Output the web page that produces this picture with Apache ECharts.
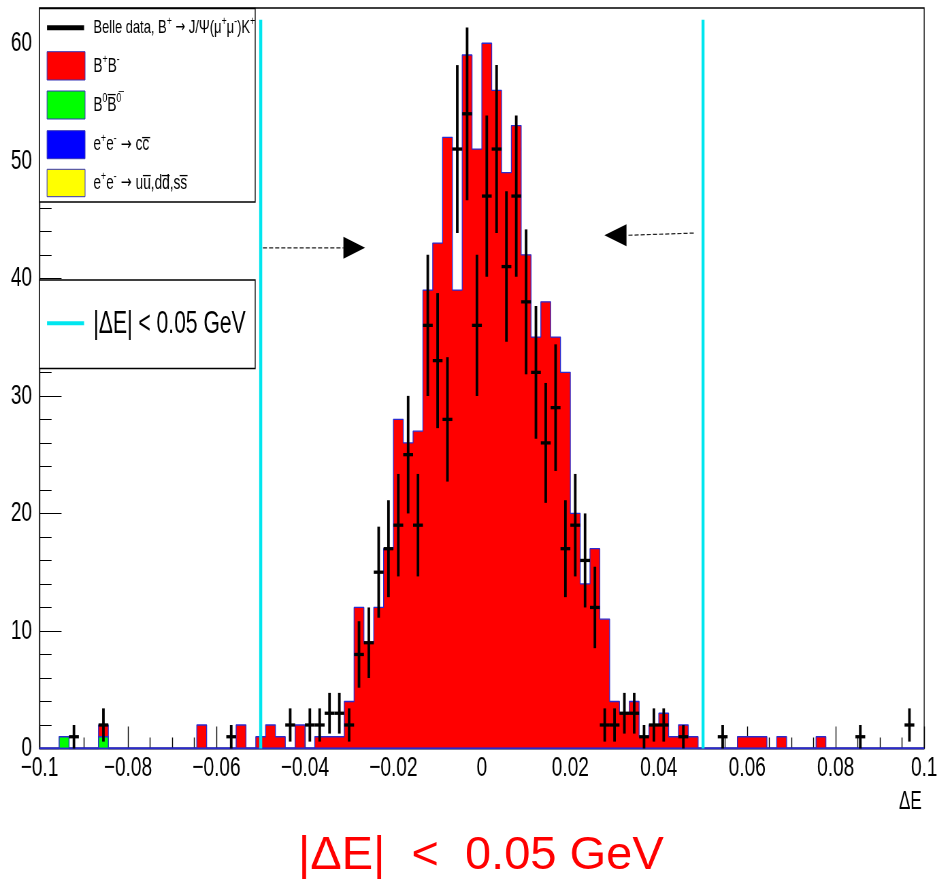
<!DOCTYPE html>
<html>
<head>
<meta charset="utf-8">
<script src="https://cdn.jsdelivr.net/npm/echarts@6/dist/echarts.min.js"></script>
<style>
  html, body { margin: 0; padding: 0; background: #ffffff; overflow: hidden; }
  #wrap { position: relative; width: 939px; height: 879px; overflow: hidden; background: #ffffff; }
  #chart { position: absolute; left: 0; top: 0; height: 879px; transform-origin: 0 0; }
</style>
</head>
<body>
<div id="wrap"><div id="chart"></div></div>
<script>
// ---------------------------------------------------------------------------
// Histogram binning: 90 bins of Delta E between -0.1 and 0.1 GeV
// ---------------------------------------------------------------------------
const xMin = -0.1;
const xMax = 0.1;
const nBins = 90;
const xTickStep = 0.02;
const yMax = 63;
const yTickStep = 10;

// signal-window cut |Delta E| < 0.05 GeV and the height the cut lines reach
const cutValue = 0.05;
const cutLineTop = 62;

// MC: B+B- (red), stacked on B0 B0bar (green); continuum samples are empty here
const countsBpBm = [
  0, 0, 0, 0, 0, 0, 1, 0, 0, 0,
  0, 0, 0, 0, 0, 0, 2, 0, 0, 0,
  2, 0, 1, 2, 1, 0, 2, 0, 1, 1,
  1, 4, 12, 9, 12, 17, 28, 26, 27, 39,
  43, 52, 39, 59, 51, 60, 56, 49, 53, 42,
  35, 38, 35, 32, 20, 14, 17, 11, 4, 3,
  4, 1, 2, 3, 1, 2, 1, 0, 0, 0,
  0, 1, 1, 1, 0, 1, 0, 0, 0, 1,
  0, 0, 0, 0, 0, 0, 0, 0, 0, 0
];
const countsB0B0 = [
  0, 0, 1, 0, 0, 0, 1, 0, 0, 0,
  0, 0, 0, 0, 0, 0, 0, 0, 0, 0,
  0, 0, 0, 0, 0, 0, 0, 0, 0, 0,
  0, 0, 0, 0, 0, 0, 0, 0, 0, 0,
  0, 0, 0, 0, 0, 0, 0, 0, 0, 0,
  0, 0, 0, 0, 0, 0, 0, 0, 0, 0,
  0, 0, 0, 0, 0, 0, 0, 0, 0, 0,
  0, 0, 0, 0, 0, 0, 0, 0, 0, 0,
  0, 0, 0, 0, 0, 0, 0, 0, 0, 0
];
const countsCCbar = [
  0, 0, 0, 0, 0, 0, 0, 0, 0, 0, 0, 0, 0, 0, 0, 0, 0, 0, 0, 0, 0, 0, 0, 0, 0, 0, 0, 0, 0, 0,
  0, 0, 0, 0, 0, 0, 0, 0, 0, 0, 0, 0, 0, 0, 0, 0, 0, 0, 0, 0, 0, 0, 0, 0, 0, 0, 0, 0, 0, 0,
  0, 0, 0, 0, 0, 0, 0, 0, 0, 0, 0, 0, 0, 0, 0, 0, 0, 0, 0, 0, 0, 0, 0, 0, 0, 0, 0, 0, 0, 0
];
const countsUDS = [
  0, 0, 0, 0, 0, 0, 0, 0, 0, 0, 0, 0, 0, 0, 0, 0, 0, 0, 0, 0, 0, 0, 0, 0, 0, 0, 0, 0, 0, 0,
  0, 0, 0, 0, 0, 0, 0, 0, 0, 0, 0, 0, 0, 0, 0, 0, 0, 0, 0, 0, 0, 0, 0, 0, 0, 0, 0, 0, 0, 0,
  0, 0, 0, 0, 0, 0, 0, 0, 0, 0, 0, 0, 0, 0, 0, 0, 0, 0, 0, 0, 0, 0, 0, 0, 0, 0, 0, 0, 0, 0
];

// Belle data, B+ -> J/psi(mu+ mu-) K+
const countsData = [
  0, 0, 0, 1, 0, 0, 2, 0, 0, 0,
  0, 0, 0, 0, 0, 0, 0, 0, 0, 1,
  0, 0, 0, 0, 0, 2, 0, 2, 2, 3,
  3, 2, 8, 9, 15, 17, 19, 25, 19, 36,
  33, 28, 51, 54, 36, 47, 51, 41, 47, 38,
  32, 26, 29, 17, 19, 16, 12, 2, 2, 3,
  3, 1, 2, 2, 0, 1, 0, 0, 0, 1,
  0, 0, 0, 0, 0, 0, 0, 0, 0, 0,
  0, 0, 0, 1, 0, 0, 0, 0, 2, 0
];

// ---------------------------------------------------------------------------
// Canvas geometry. The ROOT canvas is narrow-printed, so the chart is drawn
// wide and squeezed horizontally; SQ is the horizontal squeeze factor.
// ---------------------------------------------------------------------------
const SQ = 0.68;
const PAGE_W = 939, PAGE_H = 879;
const W = PAGE_W / SQ;
const X = px => px / SQ;          // page x  ->  canvas x

const el = document.getElementById('chart');
el.style.width = W + 'px';
el.style.transform = 'scaleX(' + SQ + ')';

const binW = (xMax - xMin) / nBins;
const FONT = "'Liberation Sans', Arial, Helvetica, sans-serif";
const ARROW_FONT = "'DejaVu Sans', sans-serif";

// step-outline points at bin edges
function stepPoints(vals) {
  const pts = [];
  for (let k = 0; k < nBins; k++) pts.push([xMin + k * binW, vals[k]]);
  pts.push([xMax, vals[nBins - 1]]);
  return pts;
}
// stack totals (drawn back to front so each layer covers the one below)
const stackGreen = countsB0B0.map((v, k) => v + countsCCbar[k] + countsUDS[k]);
const stackRed = countsBpBm.map((v, k) => v + stackGreen[k]);
const stackBlue = countsCCbar.map((v, k) => v + countsUDS[k]);

const dataPoints = [];
countsData.forEach((n, k) => { if (n > 0) dataPoints.push([xMin + (k + 0.5) * binW, n]); });

function fmtX(v) {
  if (Math.abs(v) < 1e-9) return '0';
  const s = String(parseFloat(Math.abs(v).toFixed(4)));
  return (v < 0 ? '\u2212' : '') + s;
}

const OUTLINE = '#2a2acf';

function histSeries(name, vals, fill, z) {
  return {
    name, type: 'line', step: 'end', data: stepPoints(vals),
    symbol: 'none', z, silent: true, animation: false,
    lineStyle: { color: OUTLINE, width: 1.3 },
    areaStyle: { color: fill, opacity: 1 }
  };
}

const option = {
  animation: false,
  backgroundColor: '#ffffff',
  grid: {
    left: X(39.5), right: W - X(923.5), top: 8, bottom: PAGE_H - 748.5,
    show: true, borderColor: '#000', borderWidth: 1.3, backgroundColor: '#ffffff'
  },
  xAxis: {
    type: 'value', min: xMin, max: xMax, interval: xTickStep,
    axisLine: { show: true, onZero: false, lineStyle: { color: '#000', width: 1.3 } },
    axisTick: { show: true, inside: true, length: 22, lineStyle: { color: '#000', width: 1.4 } },
    minorTick: { show: true, splitNumber: 4, length: 11, lineStyle: { color: '#000', width: 1.4 } },
    splitLine: { show: false },
    axisLabel: {
      show: true, margin: 6, fontSize: 28, fontFamily: FONT, color: '#000',
      showMinLabel: true, showMaxLabel: true, formatter: fmtX
    }
  },
  yAxis: {
    type: 'value', min: 0, max: yMax, interval: yTickStep,
    axisLine: { show: true, onZero: false, lineStyle: { color: '#000', width: 1.4 } },
    axisTick: { show: true, inside: true, length: X(22), lineStyle: { color: '#000', width: 1 } },
    minorTick: { show: true, splitNumber: 5, length: X(12), lineStyle: { color: '#000', width: 1 } },
    splitLine: { show: false },
    axisLabel: {
      show: true, margin: X(7.5), fontSize: 28, fontFamily: FONT, color: '#000',
      showMaxLabel: false
    }
  },
  series: [
    histSeries('B+B-', stackRed, '#ff0000', 2),
    histSeries('B0B0bar', stackGreen, '#00ff00', 3),
    histSeries('cc', stackBlue, '#0000ff', 4),
    histSeries('uds', countsUDS, '#ffff00', 5),
    {
      name: 'cut-low', type: 'line', symbol: 'none', z: 6, silent: true,
      data: [[-cutValue, 0], [-cutValue, cutLineTop]],
      lineStyle: { color: '#00e6ef', width: X(3) }
    },
    {
      name: 'cut-high', type: 'line', symbol: 'none', z: 6, silent: true,
      data: [[cutValue, 0], [cutValue, cutLineTop]],
      lineStyle: { color: '#00e6ef', width: X(3) }
    },
    {
      name: 'Belle data', type: 'custom', z: 7, silent: true,
      data: dataPoints,
      renderItem(params, api) {
        const x = api.value(0), n = api.value(1), e = Math.sqrt(n);
        const top = api.coord([x, n + e]);
        const bot = api.coord([x, Math.max(n - e, 0)]);
        const l = api.coord([x - binW / 2, n]);
        const r = api.coord([x + binW / 2, n]);
        return {
          type: 'group',
          children: [
            { type: 'line', shape: { x1: top[0], y1: top[1], x2: bot[0], y2: bot[1] },
              style: { stroke: '#000', lineWidth: X(2.6) } },
            { type: 'line', shape: { x1: l[0], y1: l[1], x2: r[0], y2: r[1] },
              style: { stroke: '#000', lineWidth: 3.3 } }
          ]
        };
      }
    }
  ]
};

const chart = echarts.init(el, null, { renderer: 'canvas', width: W, height: PAGE_H });
chart.setOption(option);

// ---------------------------------------------------------------------------
// Annotations: legends, window arrows, axis title and caption
// ---------------------------------------------------------------------------
const toPx = (x, y) => chart.convertToPixel({ gridIndex: 0 }, [x, y]);

// arrows pointing into the signal window (data units)
const arrowLeft = { from: [-0.0495, 42.6], base: -0.0313, tip: -0.0264 };
const arrowRight = { from: [0.0479, 43.85], base: 0.0327, tip: 0.0277, y: 43.66 };

function arrow(a, yEnd) {
  const p0 = toPx(a.from[0], a.from[1]);
  const pb = toPx(a.base, yEnd);
  const pt = toPx(a.tip, yEnd);
  return [
    { type: 'line', z: 20, shape: { x1: p0[0], y1: p0[1], x2: pb[0], y2: pb[1] },
      style: { stroke: '#222', lineWidth: 1.2, lineDash: [6, 3] } },
    { type: 'polygon', z: 20, shape: { points: [[pb[0], pb[1] - 11], [pb[0], pb[1] + 11], [pt[0], pt[1]]] },
      style: { fill: '#000' } }
  ];
}

function txt(x, y, text, size, extra) {
  return {
    type: 'text', z: 31, x: X(x), y,
    style: Object.assign({
      text, fill: '#000', fontSize: size, fontFamily: FONT,
      align: 'left', verticalAlign: 'middle', textAlign: 'left', textVerticalAlign: 'middle'
    }, extra || {})
  };
}

const SUP = { fontSize: 13, fontFamily: FONT, fill: '#000', lineHeight: 13, verticalAlign: 'top' };
const NRM = { fontSize: 20, fontFamily: FONT, fill: '#000', lineHeight: 26 };
const NRM_S = { fontSize: 19, fontFamily: FONT, fill: '#000', lineHeight: 26 };
const ARR = { fontSize: 19, fontFamily: ARROW_FONT, fill: '#000', lineHeight: 26 };
const ARR_S = { fontSize: 17, fontFamily: ARROW_FONT, fill: '#000', lineHeight: 26 };
const richLeg = { n: NRM, s: SUP, a: ARR };
const richLegData = { n: NRM_S, s: SUP, a: ARR_S };

function legendBox(y0, y1, fill) {
  return { type: 'rect', z: 31, shape: { x: X(47), y: y0, width: X(85) - X(47), height: y1 - y0 },
    style: { fill, stroke: '#3434b8', lineWidth: 1 } };
}

const graphics = [
  // legend 1 frame
  { type: 'rect', z: 30, shape: { x: X(39.5), y: 8.5, width: X(255) - X(39.5), height: 193.5 },
    style: { fill: '#fff', stroke: '#000', lineWidth: 1.3 } },
  { type: 'line', z: 31, shape: { x1: X(47), y1: 27.7, x2: X(84), y2: 27.7 },
    style: { stroke: '#000', lineWidth: 5 } },
  legendBox(51.7, 80, '#ff0000'),
  legendBox(91, 119, '#00ff00'),
  legendBox(130.7, 158.7, '#0000ff'),
  legendBox(169.3, 196.7, '#ffff00'),
  txt(93.3, 27.7, '{n|Belle data, B}{s|+}{a| \u2192 }{n|J/\u03A8(\u03BC}{s|+}{n|\u03BC}{s|-}{n|)K}{s|+}', 19, { rich: richLegData }),
  txt(93.3, 66, '{n|B}{s|+}{n|B}{s|-}', 20, { rich: richLeg }),
  txt(93.3, 105, '{n|B}{s|0}{n|B\u0305}{s|0\u0305}', 20, { rich: richLeg }),
  txt(93.3, 144.7, '{n|e}{s|+}{n|e}{s|-}{a| \u2192 }{n|cc\u0305}', 20, { rich: richLeg }),
  txt(93.3, 183, '{n|e}{s|+}{n|e}{s|-}{a| \u2192 }{n|uu\u0305,dd\u0305,ss\u0305}', 20, { rich: richLeg }),

  // legend 2: cut window
  { type: 'rect', z: 30, shape: { x: X(39.5), y: 280, width: X(255) - X(39.5), height: 88.5 },
    style: { fill: '#fff', stroke: '#000', lineWidth: 1.3 } },
  { type: 'line', z: 31, shape: { x1: X(47), y1: 323.3, x2: X(84), y2: 323.3 },
    style: { stroke: '#00e6ef', lineWidth: 4 } },
  txt(93.3, 324, '|\u0394E| < 0.05 GeV', 31),

  // axis title
  { type: 'text', z: 31, x: X(921), y: 802,
    style: { text: '\u0394E', fill: '#000', fontSize: 25, fontFamily: FONT,
      align: 'right', verticalAlign: 'middle', textAlign: 'right', textVerticalAlign: 'middle' } },

  // caption under the plot, kept at natural width
  { type: 'text', z: 31, x: X(480.5), y: 856, scaleX: 1 / SQ,
    style: { text: '|\u0394E|  <  0.05 GeV', fill: '#ff0000', fontSize: 47, fontFamily: FONT,
      align: 'center', verticalAlign: 'middle', textAlign: 'center', textVerticalAlign: 'middle' } }
];

arrow(arrowLeft, arrowLeft.from[1]).forEach(g => graphics.push(g));
arrow(arrowRight, arrowRight.y).forEach(g => graphics.push(g));

chart.setOption({ graphic: { elements: graphics } });
</script>
</body>
</html>
